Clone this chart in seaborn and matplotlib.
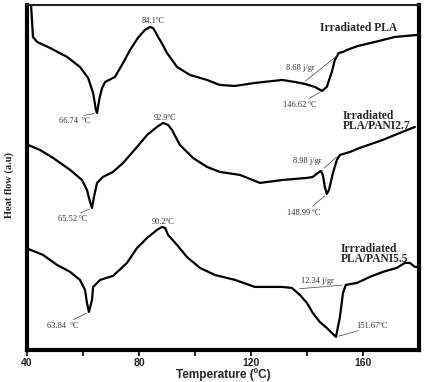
import numpy as np
import pandas as pd
import matplotlib
matplotlib.use('Agg')
import matplotlib.pyplot as plt
import seaborn as sns

# DSC curves (temperature in ºC, heat flow in arbitrary units)
pla_temp = [41.1, 42.1, 43.6, 48.2, 54.3, 58.9, 61.8, 63.6, 64.6, 65.0, 65.9, 66.8, 67.9, 71.4,
            74.3, 76.8, 79.6, 82.1, 83.9, 85.0, 86.1, 86.8, 87.9, 90.0, 93.6, 98.2, 104.3,
            108.9, 114.3, 121.4, 131.1, 135.7, 139.3, 142.9, 145.4, 147.1, 148.9, 150.0,
            151.4, 152.9, 154.3, 158.2, 164.3, 171.4, 179.3]
pla_hf = [360, 313, 308, 302, 293, 283, 272, 257, 240, 237, 252, 262, 268, 273,
          287, 300, 312, 320, 323, 322, 317, 313, 308, 297, 283, 275, 270,
          265, 264, 267, 270, 268, 266, 263, 259, 263, 278, 290,
          297, 298, 300, 304, 308, 313, 315]

pani27_temp = [40.4, 44.6, 49.3, 55.4, 59.6, 61.4, 62.5, 63.2, 63.9, 65.0, 67.1, 70.7, 74.3,
               79.3, 82.9, 86.4, 88.6, 90.4, 91.8, 94.6, 99.3, 104.3, 108.9, 116.1, 123.2,
               131.4, 140.0, 142.1, 143.9, 145.0, 145.7, 146.4, 147.1, 147.9, 149.3, 150.7,
               151.8, 155.4, 158.9, 167.1, 173.2, 178.6]
pani27_hf = [205, 200, 192, 180, 170, 160, 148, 142, 153, 167, 173, 178, 187,
             203, 215, 223, 227, 225, 220, 205, 192, 183, 178, 175, 167,
             170, 172, 173, 177, 179, 175, 163, 156, 160, 177, 190,
             195, 198, 202, 210, 217, 223]

pani55_temp = [40.4, 45.7, 50.7, 55.4, 58.9, 60.7, 61.4, 62.1, 63.2, 63.6, 66.1, 70.7, 75.7,
               79.3, 82.9, 86.4, 88.2, 89.3, 90.4, 93.6, 97.1, 101.8, 107.1, 114.3, 121.4,
               131.1, 134.6, 137.5, 140.0, 142.1, 144.6, 147.1, 148.9, 150.4, 151.8, 152.9,
               153.9, 157.9, 162.5, 167.1, 172.1, 175.0, 176.8, 178.6, 180.0]
pani55_hf = [101, 95, 85, 78, 70, 60, 47, 38, 50, 63, 70, 74, 87,
             102, 112, 120, 123, 122, 115, 105, 93, 82, 75, 70, 63,
             63, 62, 55, 47, 37, 28, 22, 17, 13, 33, 57,
             65, 67, 73, 78, 82, 87, 87, 83, 83]

# peak labels: text, text position, point on the curve
peak_labels = ['84.1ºC', '66.74  ºC', '146.62 ºC', '92.9ºC', '65.52 ºC', '148.99 ºC',
               '90.2ºC', '63.84  ºC', '151.67ºC']
peak_text_xy = [(85.0, 329), (57.1, 229), (137.5, 245), (89.3, 232), (56.1, 131), (138.9, 137),
                (88.6, 128), (52.9, 24), (163.2, 24)]
peak_point_xy = [None, (65.0, 237), (145.4, 259), None, (63.2, 142), (147.1, 156),
                 None, (62.1, 38), (150.4, 13)]

# enthalpy labels with their baseline chords
enthalpy_labels = ['8.68 j/gr', '8.98 j/gr', '12.34 j/gr']
enthalpy_text_xy = [(137.5, 282), (140.0, 189), (143.9, 69)]
enthalpy_chords = [((138.6, 267), (152.5, 298)), ((145.4, 180), (151.4, 195)),
                   ((136.4, 61), (153.6, 65))]

sample_names = ['Irradiated PLA', 'Irradiated\nPLA/PANI2.7', 'Irrradiated\nPLA/PANI5.5']
sample_xy = [(158.5, 322), (152.9, 229), (152.1, 96)]

sns.set_style('white')
plt.rcParams['font.family'] = ['Liberation Serif', 'DejaVu Serif']

fig = plt.figure(figsize=(4.3, 3.82), dpi=100)
ax = fig.add_axes([0.063, 0.084, 0.911, 0.903])

for t, hf in [(pla_temp, pla_hf), (pani27_temp, pani27_hf), (pani55_temp, pani55_hf)]:
    sns.lineplot(x=t, y=hf, color='black', linewidth=1.6, ax=ax, sort=False)

ann_font = dict(fontsize=6, color='#333333', family='Liberation Serif')
for label, txy, pxy in zip(peak_labels, peak_text_xy, peak_point_xy):
    ax.text(txy[0], txy[1], label, ha='center', va='center', **ann_font)
    if pxy is not None:
        end_y = txy[1] + 5 if pxy[1] > txy[1] else txy[1] - 4
        ax.annotate('', xy=pxy, xytext=(txy[0] + (pxy[0] - txy[0]) * 0.3, end_y),
                    arrowprops=dict(arrowstyle='-', lw=0.5, color='#444444'))

for label, txy, (a, b) in zip(enthalpy_labels, enthalpy_text_xy, enthalpy_chords):
    ax.text(txy[0], txy[1], label, ha='center', va='center', **ann_font)
    ax.annotate('', xy=b, xytext=a, arrowprops=dict(arrowstyle='-', lw=0.5, color='#444444'))

for name, xy in zip(sample_names, sample_xy):
    ha = 'center' if '\n' not in name else 'left'
    ax.text(xy[0], xy[1], name, ha=ha, va='center', fontsize=8.3, fontweight='bold',
            family='Liberation Serif', linespacing=0.85)

ax.set_xlim(40, 180)
ax.set_ylim(0, 345)
ax.set_xticks([40, 80, 120, 160])
ax.set_xticks([60, 100, 140], minor=True)
ax.set_yticks([])
ax.tick_params(axis='x', which='both', direction='out', length=4, width=1.4, bottom=True,
               pad=2, labelsize=7.5)
for lab in ax.get_xticklabels():
    lab.set_fontfamily('Liberation Sans')
    lab.set_fontweight('bold')

ax.set_xlabel('Temperature (ºC)', fontsize=8.5, fontweight='bold', family='Liberation Sans',
              labelpad=0)
ax.set_ylabel('Heat flow (a.u)', fontsize=7.5, fontweight='bold', family='Liberation Serif')
ax.yaxis.set_label_coords(-0.034, 0.478)

for side in ['left', 'bottom', 'right']:
    ax.spines[side].set_linewidth(3)
    ax.spines[side].set_color('black')
ax.spines['top'].set_linewidth(1.5)
ax.spines['top'].set_color('#222222')

fig.savefig('out.png', dpi=100)
